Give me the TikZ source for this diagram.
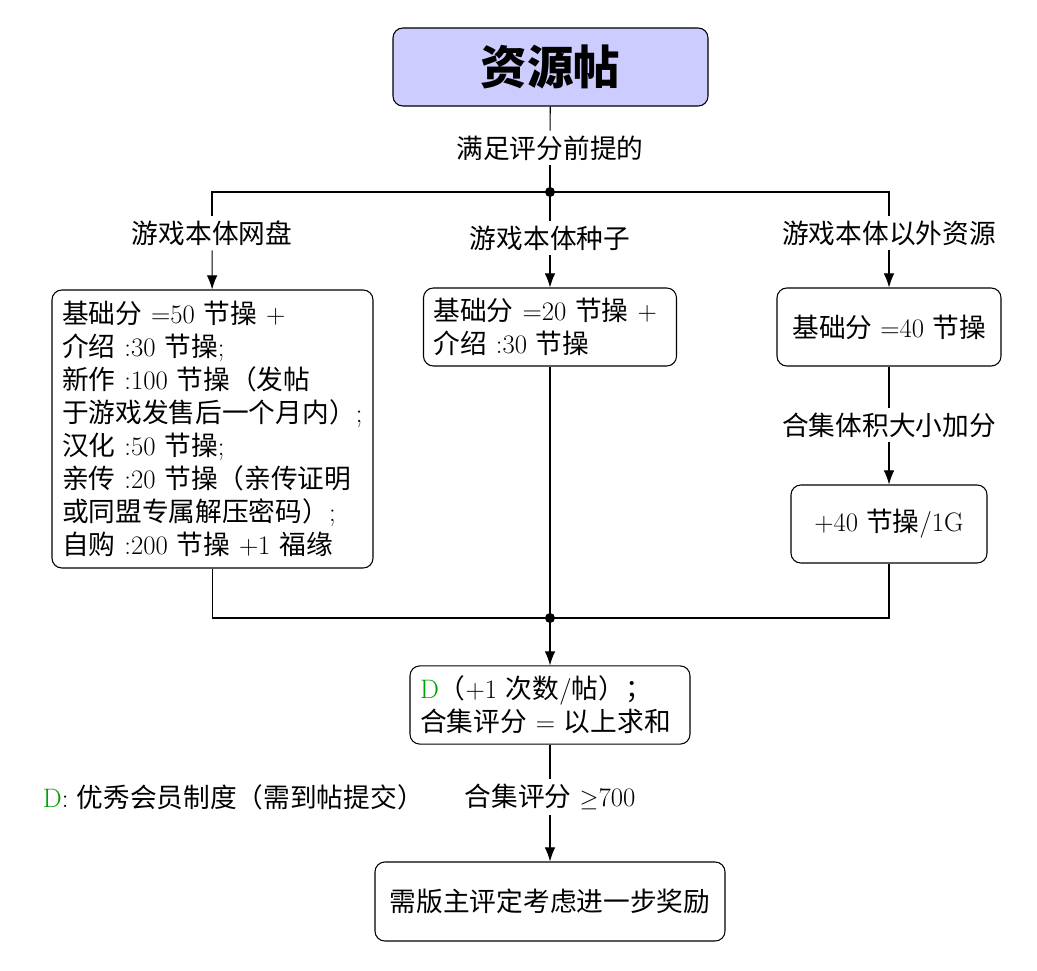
\documentclass[tikz,border=0pt]{standalone}
\usepackage{fontspec}
\usepackage{tikz}
\usetikzlibrary{positioning, arrows.meta, calc}
\usepackage{xcolor}
\definecolor{memberD}{RGB}{0, 160, 0}
\definecolor{postBlue}{RGB}{204, 204, 255}
% CJK text: switch font at each run of ideographs
\newfontfamily\cjk{Noto Sans CJK SC}
\XeTeXinterchartokenstate=1
\newXeTeXintercharclass\cjkclass
\newcount\cjkpos
\newcommand\cjkrange[2]{%
  \cjkpos=#1\relax
  \loop\ifnum\cjkpos<#2\relax
    \XeTeXcharclass\cjkpos=\cjkclass
    \advance\cjkpos by 1\relax
  \repeat}
\cjkrange{"3000}{"3040}
\cjkrange{"4E00}{"A000}
\cjkrange{"FF00}{"FFF0}
\XeTeXinterchartoks 0 \cjkclass = {\cjk}
\XeTeXinterchartoks 4095 \cjkclass = {\cjk}
\XeTeXinterchartoks \cjkclass 0 = {\rmfamily}
\XeTeXinterchartoks \cjkclass 4095 = {\rmfamily}

\begin{document}
\begin{tikzpicture}[
  every node/.style={font=\fontsize{19}{23.5}\selectfont},
  box/.style={draw, rounded corners=7pt, line width=0.75pt, inner sep=0.25cm},
  link/.style={line width=0.75pt},
  arr/.style={link, -{Latex[length=10pt, width=7.5pt]}},
]
  \useasboundingbox (0,0) rectangle (25.925,-24.25);
  \node[box, fill=postBlue, minimum width=7.875cm, minimum height=1.95cm,
        font=\fontsize{33}{40}\selectfont\bfseries] (post) at (13.7625,-1.675) {资源帖};
  \node (cond) at (13.75,-3.7) {满足评分前提的};
  \coordinate (top) at (13.75,-4.8);
  \node (labNet) at (5.3,-5.825) {游戏本体网盘};
  \node (labSeed) at (13.75,-5.95) {游戏本体种子};
  \node (labOther) at (22.225,-5.825) {游戏本体以外资源};

  \node[box, text width=7.525cm, minimum height=6.95cm, align=left] (boxNet) at (5.3125,-10.725)
    {基础分 =50 节操 +\\介绍 :30 节操;\\新作 :100 节操（发帖\\于游戏发售后一个月内）;\\汉化 :50 节操;\\亲传 :20 节操（亲传证明\\或同盟专属解压密码）;\\自购 :200 节操 +1 福缘};
  \node[box, text width=5.825cm, minimum height=1.95cm, align=left] (boxSeed) at (13.75,-8.175)
    {基础分 =20 节操 +\\介绍 :30 节操};
  \node[box, minimum width=5.6cm, minimum height=1.95cm] (boxOther) at (22.225,-8.175) {基础分 =40 节操};
  \node (labSize) at (22.225,-10.625) {合集体积大小加分};
  \node[box, minimum width=4.9cm, minimum height=1.95cm] (boxSize) at (22.225,-13.1) {+40 节操/1G};

  \coordinate (bottom) at (13.75,-15.45);
  \node[box, text width=6.5cm, minimum height=1.95cm, align=left] (boxSum) at (13.75,-17.625)
    {{\color{memberD}D}（+1 次数/帖）；\\合集评分 = 以上求和};
  \node (labScore) at (13.75,-19.925) {合集评分 $\geq$700};
  \node[anchor=west] (note) at (0.95,-19.925) {{\color{memberD}D}: 优秀会员制度（需到帖提交）};
  \node[box, minimum width=8.75cm, minimum height=1.975cm] (reward) at (13.75,-22.5375) {需版主评定考虑进一步奖励};

  \draw[link] (post) -- (cond);
  \draw[link] (cond) -- (top);
  \draw[link] (top) -| (labNet);
  \draw[link] (top) -| (labOther);
  \draw[link] (top) -- (labSeed);
  \fill (top) circle (0.125);
  \draw[arr] (labNet) -- (boxNet);
  \draw[arr] (labSeed) -- (boxSeed);
  \draw[arr] (labOther) -- (boxOther);
  \draw[link] (boxOther) -- (labSize);
  \draw[arr] (labSize) -- (boxSize);
  \draw[link] (boxNet.south) |- (bottom);
  \draw[link] (boxSize.south) |- (bottom);
  \draw[link] (boxSeed) -- (bottom);
  \fill (bottom) circle (0.125);
  \draw[arr] (bottom) -- (boxSum);
  \draw[link] (boxSum) -- (labScore);
  \draw[arr] (labScore) -- (reward);
\end{tikzpicture}
\end{document}
